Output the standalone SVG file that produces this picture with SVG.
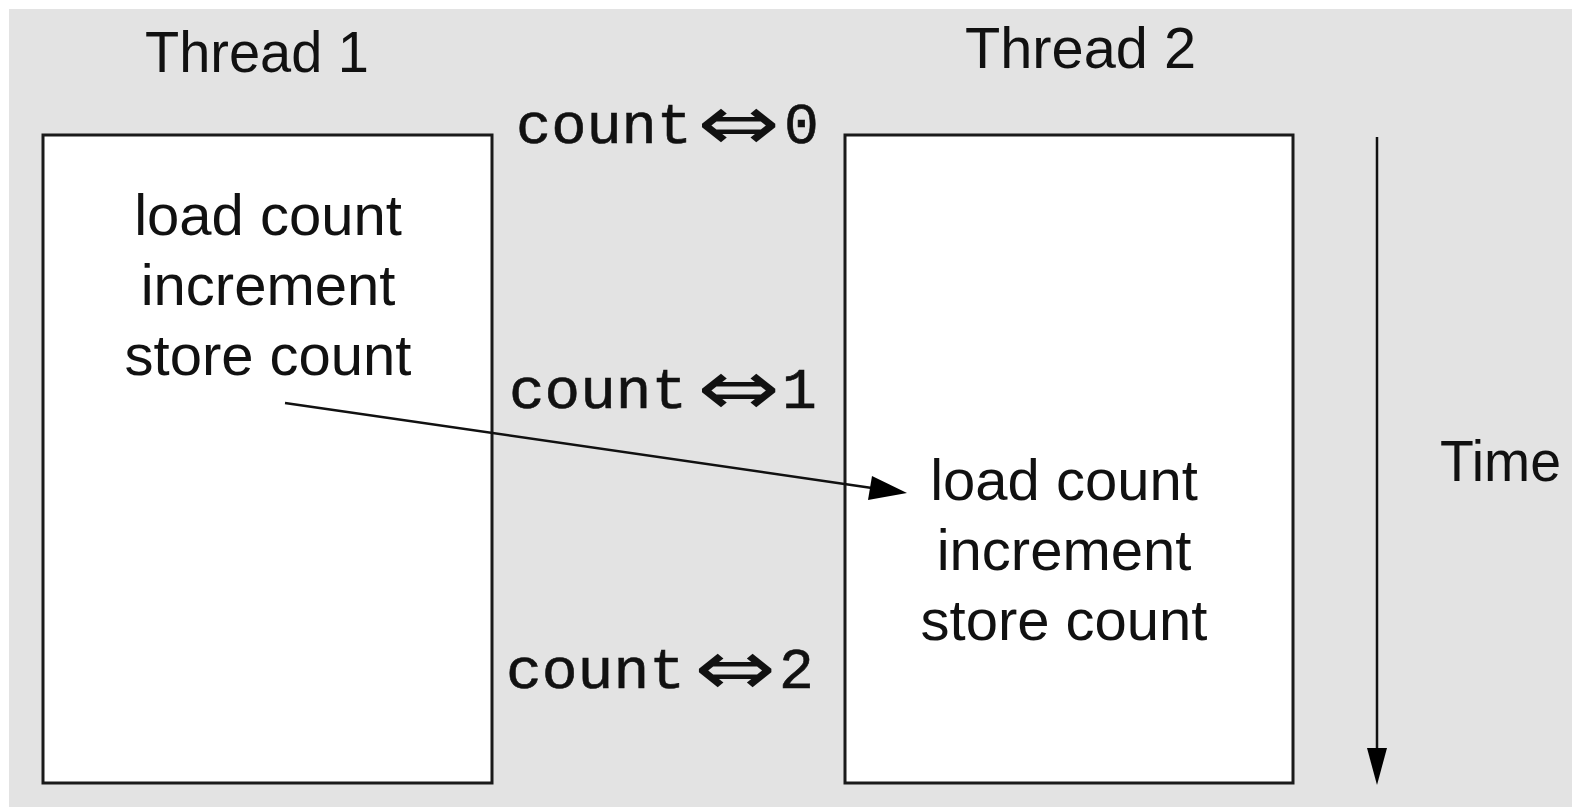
<svg xmlns="http://www.w3.org/2000/svg" width="1572" height="807" viewBox="0 0 1572 807">
<defs>
<style>
.bg{fill:#e3e3e3}
.box{fill:#fff;stroke:#1a1a1a;stroke-width:3}
.t{font-family:"Liberation Sans",Arial,Helvetica,sans-serif;font-size:58px;fill:#111;text-anchor:middle}
.h{font-family:"Liberation Sans",Arial,Helvetica,sans-serif;font-size:58px;fill:#111}
.m{font-family:"Liberation Mono","Courier New",monospace;font-size:58px;fill:#111;stroke:#111;stroke-width:0.6}
.s{font-family:"DejaVu Sans",sans-serif;font-size:78px;fill:#111}
.ln{stroke:#111;stroke-width:2.5;fill:none}
</style>
</defs>
<rect x="0" y="0" width="1572" height="807" fill="#fff"/>
<rect class="bg" x="9" y="9" width="1563" height="798"/>
<g id="thread1">
<text class="h" x="145" y="72" textLength="224" lengthAdjust="spacingAndGlyphs">Thread 1</text>
<rect class="box" x="43" y="135" width="449" height="648"/>
<text class="t" x="268" y="235">load count</text>
<text class="t" x="268" y="305">increment</text>
<text class="t" x="268" y="375">store count</text>
</g>
<g id="thread2">
<text class="h" x="965" y="68" textLength="231" lengthAdjust="spacingAndGlyphs">Thread 2</text>
<rect class="box" x="845" y="135" width="448" height="648"/>
<text class="t" x="1064" y="500">load count</text>
<text class="t" x="1064" y="570">increment</text>
<text class="t" x="1064" y="640">store count</text>
</g>
<g id="count0">
<text class="m" x="516" y="143" textLength="176" lengthAdjust="spacingAndGlyphs">count</text>
<text class="s" x="697" y="150" textLength="83" lengthAdjust="spacingAndGlyphs">⇔</text>
<text class="m" x="784" y="143">0</text>
</g>
<g id="count1">
<text class="m" x="509" y="408" textLength="178" lengthAdjust="spacingAndGlyphs">count</text>
<text class="s" x="697" y="415" textLength="83" lengthAdjust="spacingAndGlyphs">⇔</text>
<text class="m" x="782" y="408">1</text>
</g>
<g id="count2">
<text class="m" x="506" y="688" textLength="179" lengthAdjust="spacingAndGlyphs">count</text>
<text class="s" x="694" y="695" textLength="82" lengthAdjust="spacingAndGlyphs">⇔</text>
<text class="m" x="779" y="688">2</text>
</g>
<g id="time">
<text class="h" x="1440" y="481" textLength="121" lengthAdjust="spacingAndGlyphs">Time</text>
</g>
<g id="connectors">
<path d="M285,403 L872,488" class="ln"/>
<path d="M907,493 L872,476 L868,500 z" fill="#000"/>
<line class="ln" x1="1377" y1="137" x2="1377" y2="750"/>
<path d="M1367,748 L1387,748 L1377,785 z" fill="#000"/>
</g>
</svg>
